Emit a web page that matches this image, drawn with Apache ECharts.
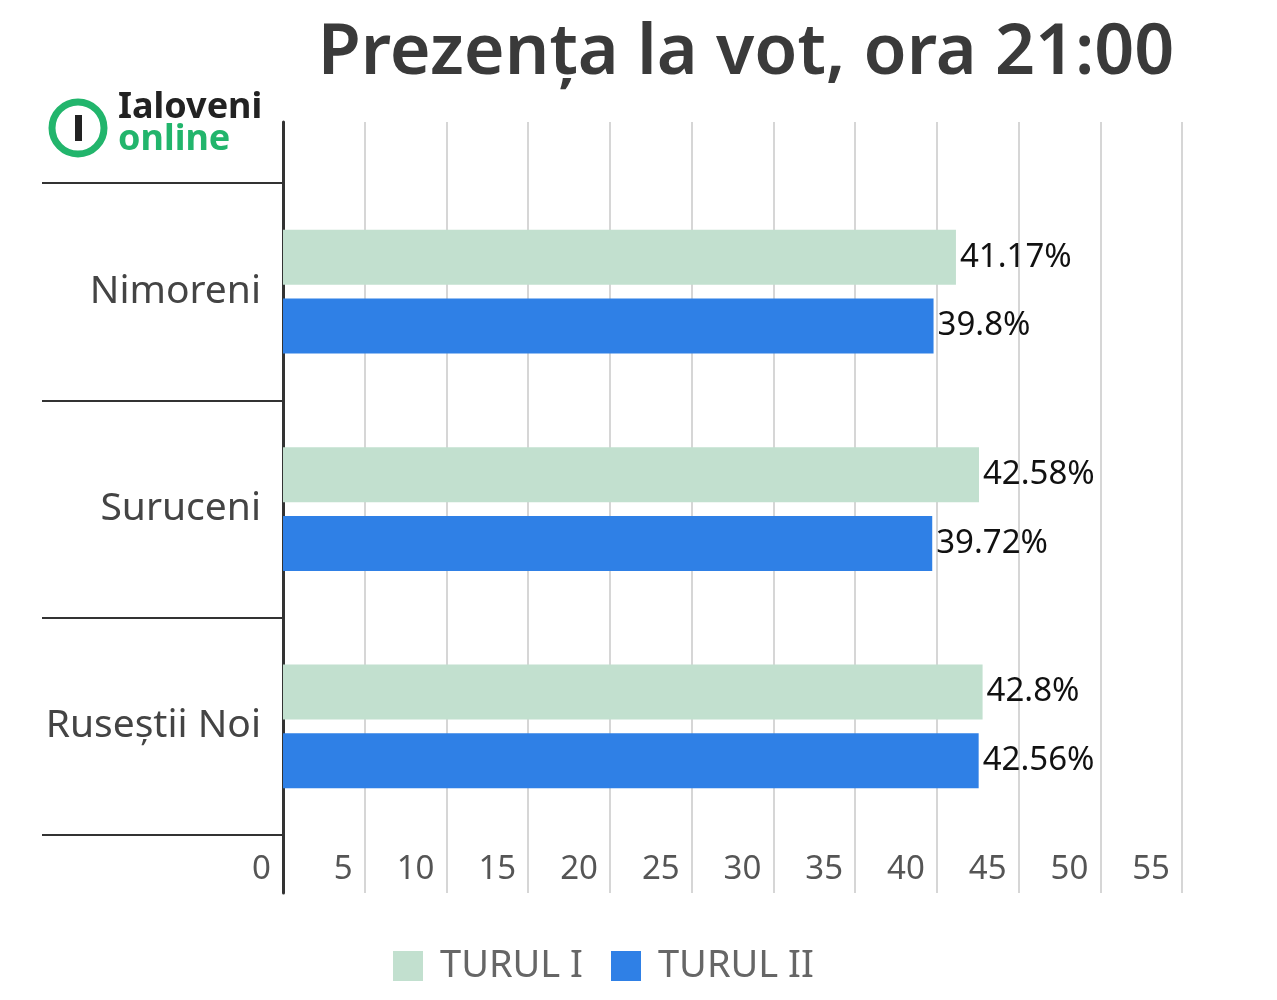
<!DOCTYPE html>
<html><head><meta charset="utf-8">
<script src="https://cdn.jsdelivr.net/npm/echarts@6/dist/echarts.min.js"></script>
<style>html,body{margin:0;background:#fff}#c{width:1277px;height:1000px}</style>
</head><body><div id="c"></div>
<script>
const categories = ['Nimoreni', 'Suruceni', 'Ruseștii Noi'];
const turul1 = [41.17, 42.58, 42.8];
const turul2 = [39.8, 39.72, 42.56];
const labels1 = ['41.17%', '42.58%', '42.8%'];
const labels2 = ['39.8%', '39.72%', '42.56%'];
const seriesNames = ['TURUL I', 'TURUL II'];
const F = '"Noto Sans", "Open Sans", sans-serif';
const chart = echarts.init(document.getElementById('c'));
const lbl = arr => ({show:true, position:'right', distance:4, color:'#111', fontSize:33, fontFamily:F,
  formatter: p => arr[p.dataIndex]});
chart.setOption({
  animation:false,
  title:{text:'Prezența la vot, ora 21:00', left:741, textAlign:'center', top:14,
    textStyle:{fontSize:70, fontWeight:600, color:'#3a3a3a', fontFamily:F}},
  legend:{bottom:10, left:388, itemWidth:30, itemHeight:30, itemGap:28, icon:'rect',
    textStyle:{fontSize:38, color:'#666', fontFamily:F, padding:[0,0,0,12]}, data:seriesNames},
  grid:[{left:283, right:95, top:122, bottom:107},{left:283, right:95, top:183, bottom:165}],
  xAxis:[
    {gridIndex:0, type:'value', min:0, max:55, interval:5, axisLine:{show:false}, axisTick:{show:false},
     splitLine:{show:true, lineStyle:{color:'#d6d6d6', width:2}},
     axisLabel:{margin:-40, align:'right', padding:[0,12,0,0], fontSize:33, color:'#555', fontFamily:F}},
    {gridIndex:1, type:'value', min:0, max:55, show:false}
  ],
  yAxis:[
    {gridIndex:0, type:'value', min:0, max:1, axisLine:{show:true, lineStyle:{color:'#333', width:3}},
     axisLabel:{show:false}, axisTick:{show:false}, splitLine:{show:false}},
    {gridIndex:1, type:'category', data:categories, inverse:true,
     axisLine:{show:false}, axisTick:{show:true, length:241, lineStyle:{color:'#333', width:2}},
     axisLabel:{fontSize:39, color:'#444', margin:22, fontFamily:F}}
  ],
  series:[
    {name:seriesNames[0], type:'bar', xAxisIndex:1, yAxisIndex:1, data:turul1, barWidth:55, barGap:'25%',
     itemStyle:{color:'#c2e0cf'}, label:lbl(labels1)},
    {name:seriesNames[1], type:'bar', xAxisIndex:1, yAxisIndex:1, data:turul2, barWidth:55, barGap:'25%',
     itemStyle:{color:'#2f80e6'}, label:lbl(labels2)}
  ],
  graphic:[
    {type:'circle', shape:{cx:78, cy:128, r:26}, style:{fill:'none', stroke:'#22b56c', lineWidth:7}},
    {type:'rect', shape:{x:75, y:115, width:7, height:26}, style:{fill:'#222'}},
    {type:'text', left:118, top:90, style:{text:'Ialoveni', fontSize:36, fontWeight:'bold', fill:'#222', fontFamily:F}},
    {type:'text', left:118, top:122, style:{text:'online', fontSize:36, fontWeight:'bold', fill:'#22b56c', fontFamily:F}}
  ]
});
</script></body></html>
